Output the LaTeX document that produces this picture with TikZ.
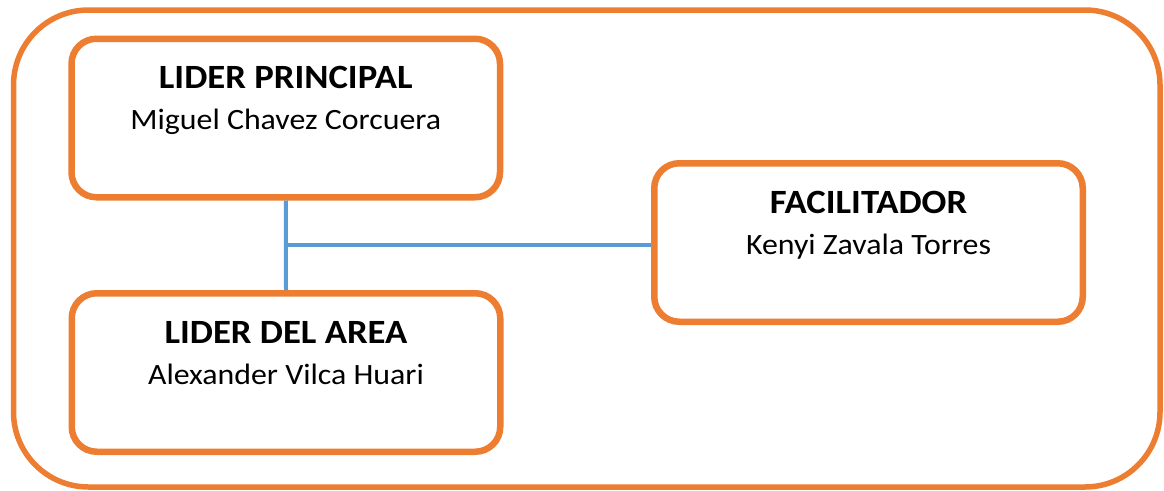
\documentclass[tikz,border=0pt]{standalone}
\usepackage{fontspec}
\setmainfont[FakeStretch=1.08]{Carlito}
\definecolor{orangeline}{HTML}{ED7D31}
\definecolor{linkblue}{HTML}{5B9BD5}
\begin{document}
\begin{tikzpicture}[x=1pt,y=-1pt,
  frame/.style={draw=orangeline, line width=5.5pt, rounded corners=75pt},
  box/.style={draw=orangeline, line width=6.5pt, rounded corners=25pt,
    rectangle, inner sep=0pt, minimum width=428.5pt, minimum height=158.5pt},
  title/.style={font=\fontsize{34}{38}\selectfont\bfseries, anchor=base, inner sep=0pt},
  person/.style={font=\fontsize{29.5}{34}\selectfont, anchor=base, inner sep=0pt},
  link/.style={draw=linkblue, line width=4pt}]
\useasboundingbox (0,0) rectangle (1164,490);
% outer frame
\draw[frame] (13.5,10) rectangle (1160,487);
% boxes
\node[box] (lp) at (285.75,118) {};
\node[box] (la) at (286,372.5) {};
\node[box] (fa) at (868.5,242.5) {};
% texts
\node[title]  (lpt) at ([yshift=-53.3pt]lp.north) {LIDER PRINCIPAL};
\node[person] (lpn) at ([yshift=-94.2pt]lp.north) {Miguel Chavez Corcuera};
\node[title]  (lat) at ([yshift=-53.3pt]la.north) {LIDER DEL AREA};
\node[person] (lan) at ([yshift=-94.2pt]la.north) {Alexander Vilca Huari};
\node[title]  (fat) at ([yshift=-53.3pt]fa.north) {FACILITADOR};
\node[person] (fan) at ([yshift=-94.2pt]fa.north) {Kenyi Zavala Torres};
% connectors
\coordinate (j) at (lp.south |- 0,245);
\draw[link] (lp.south) -- (la.north);
\draw[link] (j) -- (j -| fa.west);
\end{tikzpicture}
\end{document}
